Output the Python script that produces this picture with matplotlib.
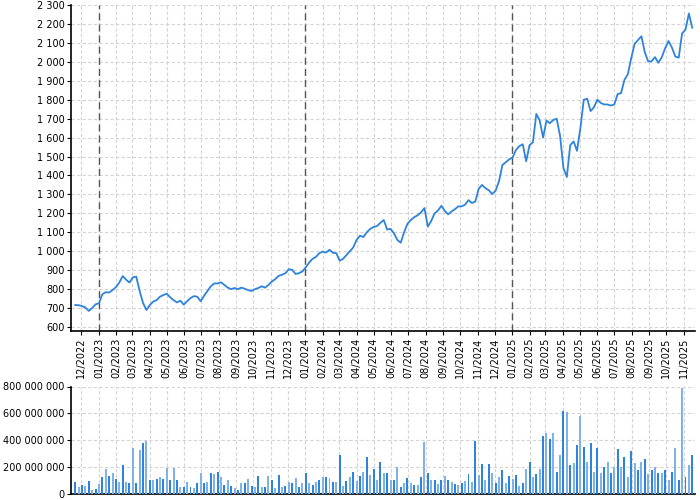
import matplotlib
matplotlib.use("Agg")
import matplotlib.pyplot as plt
import matplotlib.dates as mdates
from matplotlib.ticker import FuncFormatter, MultipleLocator
import pandas as pd

start_date = "2022-11-20"
price = [
    716, 715, 711, 703, 685, 700, 720, 725, 773, 784,
    782, 795, 810, 835, 869, 850, 835, 862, 866, 790,
    727, 690, 716, 734, 742, 760, 769, 776, 757, 742,
    730, 739, 718, 736, 753, 763, 760, 736, 765, 790,
    815, 830, 830, 836, 822, 808, 800, 806, 800, 808,
    802, 795, 790, 800, 806, 815, 808, 822, 840, 853,
    870, 876, 884, 905, 902, 880, 884, 893, 915, 940,
    960, 970, 990, 998, 993, 1008, 992, 990, 950, 960,
    980, 1000, 1020, 1060, 1082, 1075, 1100, 1118, 1128, 1133,
    1150, 1165, 1115, 1118, 1095, 1060, 1045, 1100, 1145, 1165,
    1180, 1190, 1205, 1228, 1130, 1160, 1200, 1215, 1240, 1213,
    1195, 1210, 1222, 1237, 1237, 1246, 1270, 1255, 1262, 1330,
    1350, 1333, 1322, 1302, 1320, 1370, 1455, 1470, 1485, 1495,
    1535, 1555, 1565, 1475, 1560, 1575, 1725, 1690, 1600, 1690,
    1676, 1693, 1700, 1610, 1440, 1392, 1560, 1580, 1530, 1650,
    1800, 1805, 1740, 1760, 1800, 1783, 1775, 1775, 1769, 1775,
    1830, 1835, 1905, 1935, 2020, 2095, 2115, 2135, 2050, 2002,
    2003, 2025, 1995, 2024, 2072, 2110, 2075, 2028, 2022, 2150,
    2170, 2255, 2180,
]

# volume in millions, same sampling
volume_m = [
    92, 55, 67, 60, 97, 30, 40, 75, 130, 186,
    134, 154, 112, 90, 216, 92, 85, 340, 80, 328,
    378, 395, 104, 104, 110, 130, 110, 191, 104, 196,
    104, 55, 55, 92, 50, 42, 85, 154, 80, 92,
    159, 150, 166, 130, 67, 104, 60, 42, 30, 85,
    85, 110, 60, 55, 134, 55, 55, 134, 104, 42,
    142, 50, 60, 92, 85, 117, 55, 80, 159, 80,
    70, 92, 104, 130, 130, 117, 92, 90, 290, 60,
    99, 130, 166, 100, 134, 166, 278, 142, 184, 104,
    241, 159, 154, 104, 104, 200, 55, 80, 117, 80,
    70, 67, 130, 390, 160, 104, 104, 75, 104, 134,
    104, 92, 75, 67, 80, 99, 150, 92, 397, 142,
    224, 104, 224, 154, 80, 130, 179, 80, 134, 110,
    142, 60, 80, 184, 241, 130, 150, 184, 432, 457,
    407, 457, 166, 291, 621, 609, 216, 229, 365, 581,
    353, 241, 383, 166, 340, 154, 200, 241, 154, 200,
    333, 204, 278, 130, 320, 229, 179, 240, 258, 150,
    179, 200, 154, 160, 179, 104, 166, 340, 104, 787,
    130, 216, 291,
]

year_marks = ["2023-01-01", "2024-01-01", "2025-01-01"]

dates = pd.date_range(start_date, periods=len(price), freq="6D")
volume = [v * 1e6 for v in volume_m]

line_color = "#2e83dc"
grid_kw = dict(color="#d4d4d4", linestyle=(0, (3, 2)), linewidth=0.8)


def space_thousands(v, pos):
    return f"{int(round(v)):,}".replace(",", " ")


fig = plt.figure(figsize=(7, 5), dpi=100)
ax = fig.add_axes([0.101, 0.338, 0.892, 0.652])
axv = fig.add_axes([0.101, 0.012, 0.892, 0.215], sharex=ax)

# price
ax.plot(dates, price, color=line_color, linewidth=1.3, zorder=3)
for d in year_marks:
    ax.axvline(pd.Timestamp(d), color="#555555", linestyle=(0, (5, 3)),
               linewidth=1, zorder=2)

ax.set_xlim(pd.Timestamp("2022-11-12"), pd.Timestamp("2025-11-21"))
ax.set_ylim(579, 2300)
ax.yaxis.set_major_locator(MultipleLocator(100))
ax.yaxis.set_major_formatter(FuncFormatter(space_thousands))
ax.xaxis.set_major_locator(mdates.MonthLocator())
ax.xaxis.set_major_formatter(mdates.DateFormatter("%m/%Y"))
ax.grid(True, **grid_kw)
ax.set_axisbelow(True)
ax.tick_params(axis="x", labelrotation=90, labelsize=7, length=3, pad=1.5)
ax.tick_params(axis="y", labelsize=7, length=3, pad=1.5)

# volume
bar_colors = [line_color if i % 2 == 0 else "#7fb2ea" for i in range(len(volume))]
axv.bar(dates, volume, width=3.5, color=bar_colors, linewidth=0, zorder=3)
axv.set_ylim(0, 800e6)
axv.yaxis.set_major_locator(MultipleLocator(200e6))
axv.yaxis.set_major_formatter(FuncFormatter(space_thousands))
axv.grid(True, **grid_kw)
axv.set_axisbelow(True)
axv.tick_params(axis="x", labelbottom=False, length=0)
axv.tick_params(axis="y", labelsize=7, length=3, pad=1.5)

for a in (ax, axv):
    a.spines["top"].set_visible(False)
    a.spines["right"].set_visible(False)
    a.spines["left"].set_linewidth(1.2)
    a.spines["bottom"].set_linewidth(1.2)

fig.savefig("out.png", dpi=100)
